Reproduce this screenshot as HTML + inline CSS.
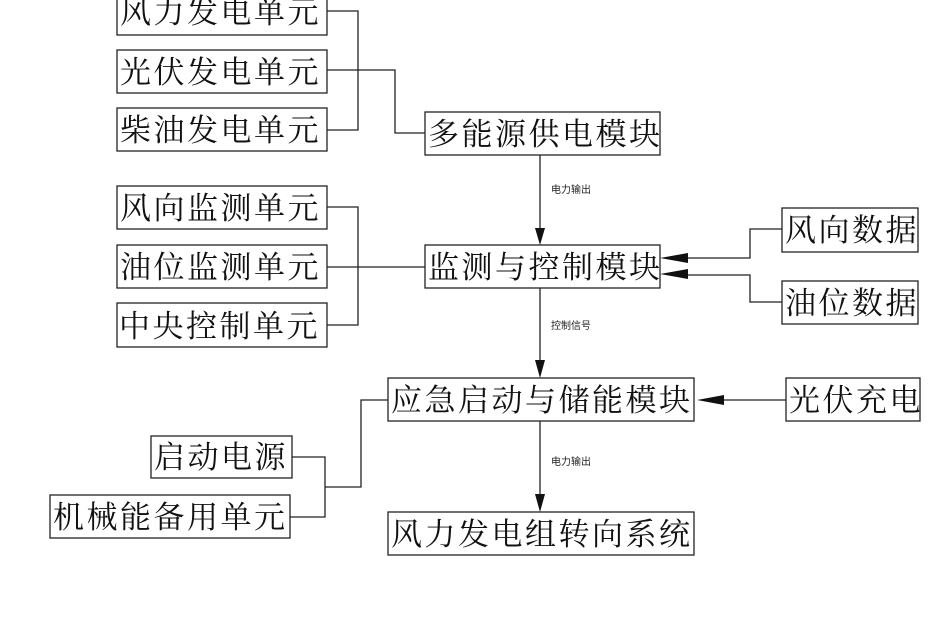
<!DOCTYPE html>
<html><head><meta charset="utf-8"><style>
body{margin:0;background:#fff}
</style></head><body>
<svg width="943" height="624" xmlns="http://www.w3.org/2000/svg" style="display:block">
<g fill="none" stroke="#222" stroke-width="1.3">
<rect x="117" y="-12" width="210" height="47"/>
<rect x="117" y="50" width="210" height="43"/>
<rect x="117" y="108" width="210" height="43"/>
<rect x="117" y="186" width="210" height="43"/>
<rect x="117" y="245" width="210" height="43"/>
<rect x="117" y="303" width="210" height="44"/>
<rect x="425" y="112" width="235" height="43"/>
<rect x="425" y="245" width="235" height="43"/>
<rect x="782" y="208" width="136" height="44"/>
<rect x="782" y="281" width="136" height="43"/>
<rect x="388" y="378" width="306" height="43"/>
<rect x="786" y="378" width="134" height="43"/>
<rect x="388" y="512" width="306" height="43"/>
<rect x="151" y="436" width="141" height="42"/>
<rect x="50" y="495" width="240" height="43"/>
<polyline points="327,11 358,11 358,130 327,130"/>
<polyline points="327,70 395,70 395,133 425,133"/>
<polyline points="327,207 358,207 358,325 327,325"/>
<line x1="327" y1="267" x2="425" y2="267"/>
<line x1="540" y1="155" x2="540" y2="228"/>
<line x1="540" y1="288" x2="540" y2="360"/>
<line x1="540" y1="421" x2="540" y2="494"/>
<polyline points="782,229 750,229 750,258 685,258"/>
<polyline points="782,302 750,302 750,275 685,275"/>
<line x1="786" y1="400" x2="720" y2="400"/>
<polyline points="292,457 325,457 325,517 290,517"/>
<polyline points="325,487 361,487 361,400 388,400"/>
</g>
<g fill="#111">
<polygon points="535,228 545,228 540,245"/>
<polygon points="535,360 545,360 540,378"/>
<polygon points="535,494 545,494 540,512"/>
<polygon points="660,258 688,253 688,263"/>
<polygon points="660,274 688,269 688,279"/>
<polygon points="697,400 724,395 724,405"/>
</g>
<g font-family="Liberation Serif, Noto Serif CJK SC, serif" font-size="31" fill="#111" letter-spacing="2.5">
<text x="120" y="23">风力发电单元</text>
<text x="120" y="83">光伏发电单元</text>
<text x="120" y="141">柴油发电单元</text>
<text x="120" y="219">风向监测单元</text>
<text x="120" y="278">油位监测单元</text>
<text x="119" y="337">中央控制单元</text>
<text x="428" y="145">多能源供电模块</text>
<text x="428" y="278">监测与控制模块</text>
<text x="785" y="241">风向数据</text>
<text x="785" y="314">油位数据</text>
<text x="391" y="411">应急启动与储能模块</text>
<text x="789" y="411">光伏充电</text>
<text x="391" y="545">风力发电组转向系统</text>
<text x="154" y="468">启动电源</text>
<text x="53" y="528">机械能备用单元</text>
</g>
<g font-family="Liberation Sans, Noto Sans CJK SC, sans-serif" font-size="10" fill="#222">
<text x="551" y="193">电力输出</text>
<text x="551" y="329">控制信号</text>
<text x="551" y="465">电力输出</text>
</g>
</svg>
</body></html>
